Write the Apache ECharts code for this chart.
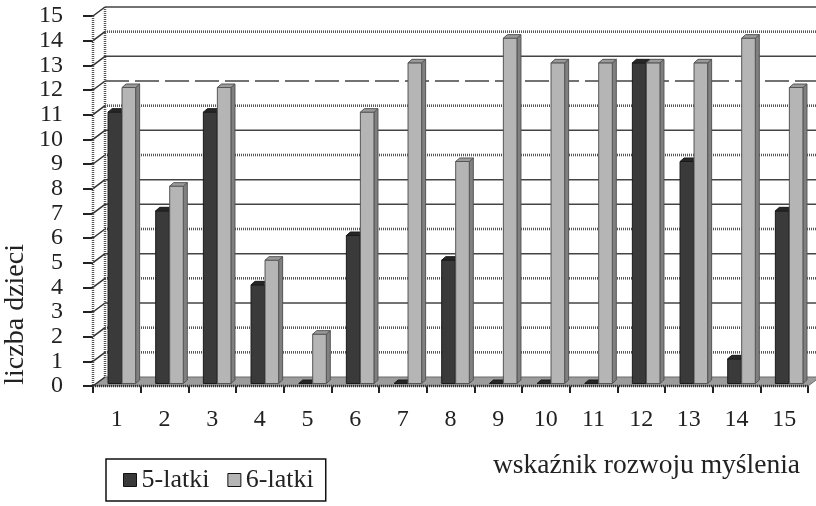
<!DOCTYPE html>
<html>
<head>
<meta charset="utf-8">
<script src="https://cdn.jsdelivr.net/npm/echarts@6/dist/echarts.min.js"></script>
<style>
html,body{margin:0;padding:0;background:#fff;}
#chart{width:816px;height:506px;}
</style>
</head>
<body>
<div id="chart"></div>
<script>
// ---- data ----
const categories = ['1','2','3','4','5','6','7','8','9','10','11','12','13','14','15'];
const seriesNames = ['5-latki', '6-latki'];
const values5 = [11, 7, 11, 4, 0, 6, 0, 5, 0, 0, 0, 13, 9, 1, 7];
const values6 = [12, 8, 12, 5, 2, 11, 13, 9, 14, 13, 13, 13, 13, 14, 12];
const yTicks = [0,1,2,3,4,5,6,7,8,9,10,11,12,13,14,15];
const xTitle = 'wskaźnik rozwoju myślenia';
const yTitle = 'liczba dzieci';

// ---- style config ----
const FONT = "'Liberation Serif', 'DejaVu Serif', serif";
const gridPattern = ['none','dotted','dotted','solid','dotted','solid','dotted','solid','solid','dotted','solid','dotted','dashed','solid','dotted','solid'];
const DEPTH_X = 12, DEPTH_Y = -9;

function lineStyleFor(kind) {
  if (kind === 'dotted') return {stroke: '#555', lineWidth: 2.6, lineDash: [1, 1]};
  if (kind === 'dashed') return {stroke: '#444', lineWidth: 1.6, lineDash: [24, 6]};
  return {stroke: '#444', lineWidth: 1.5};
}

function renderWall(params, api) {
  const cs = params.coordSys;
  const v = api.value(1);
  const p = api.coord([0, v]);
  const y = p[1];
  const xl = cs.x, xr = cs.x + cs.width;
  const children = [];
  if (v === 0) {
    children.push({type: 'polygon', shape: {points: [[xl, y], [xr, y], [xr + DEPTH_X, y + DEPTH_Y], [xl + DEPTH_X, y + DEPTH_Y]]},
      style: {fill: '#9c9c9c', stroke: '#6a6a6a', lineWidth: 1}});
    children.push({type: 'line', shape: {x1: xl, y1: y, x2: xr, y2: y}, style: {stroke: '#333', lineWidth: 2.5, lineDash: [1, 1]}});
    const yTop = cs.y;
    children.push({type: 'line', shape: {x1: xl, y1: yTop, x2: xl, y2: y}, style: {stroke: '#555', lineWidth: 2.5, lineDash: [1, 1]}});
    children.push({type: 'line', shape: {x1: xl + DEPTH_X, y1: yTop + DEPTH_Y, x2: xl + DEPTH_X, y2: y + DEPTH_Y}, style: {stroke: '#555', lineWidth: 2.5, lineDash: [1, 1]}});
  } else {
    const st = lineStyleFor(gridPattern[v]);
    children.push({type: 'line', shape: {x1: xl + DEPTH_X, y1: y + DEPTH_Y, x2: xr + DEPTH_X + 10, y2: y + DEPTH_Y}, style: st});
  }
  children.push({type: 'line', shape: {x1: xl, y1: y, x2: xl + DEPTH_X, y2: y + DEPTH_Y}, style: {stroke: '#333', lineWidth: 1.5}});
  return {type: 'group', children: children};
}

function barRenderer(side, colors) {
  return function (params, api) {
    const ci = api.value(0), v = api.value(1);
    const top = api.coord([ci, v]);
    const base = api.coord([ci, 0]);
    const hw = 6.8;
    const cx = top[0] + side * 7;
    const fx = 5, fy = -2.5, dx = 4, dy = -3.5;
    const x0 = cx - hw + fx, x1 = cx + hw + fx;
    const yt = top[1] + fy, yb = base[1] + fy;
    const children = [];
    if (yb - yt > 0.5) {
      children.push({type: 'polygon', shape: {points: [[x1, yt], [x1 + dx, yt + dy], [x1 + dx, yb + dy], [x1, yb]]},
        style: {fill: colors.side, stroke: colors.stroke, lineWidth: 1}});
      children.push({type: 'rect', shape: {x: x0, y: yt, width: x1 - x0, height: yb - yt},
        style: {fill: colors.front, stroke: colors.stroke, lineWidth: 1}});
    }
    children.push({type: 'polygon', shape: {points: [[x0, yt], [x1, yt], [x1 + dx, yt + dy], [x0 + dx, yt + dy]]},
      style: {fill: colors.top, stroke: colors.stroke, lineWidth: 1}});
    return {type: 'group', children: children};
  };
}

const darkColors = {front: '#3a3a3a', top: '#262626', side: '#1f1f1f', stroke: '#1a1a1a'};
const lightColors = {front: '#b5b5b5', top: '#9a9a9a', side: '#808080', stroke: '#555'};

const chart = echarts.init(document.getElementById('chart'), null, {renderer: 'canvas'});
chart.setOption({
  animation: false,
  backgroundColor: '#fff',
  textStyle: {fontFamily: FONT},
  grid: {left: 93, right: 8, top: 16, bottom: 120, containLabel: false},
  legend: {
    data: seriesNames,
    left: 106, top: 459,
    orient: 'horizontal',
    borderColor: '#111', borderWidth: 1.5,
    padding: [8, 12, 8, 17],
    itemWidth: 13, itemHeight: 13, itemGap: 18,
    icon: 'rect',
    itemStyle: {borderColor: '#111', borderWidth: 1},
    textStyle: {fontFamily: FONT, fontSize: 26, color: '#222'}
  },
  xAxis: {
    type: 'category',
    data: categories,
    boundaryGap: true,
    axisLine: {show: false},
    axisTick: {show: true, length: 7, interval: 0, lineStyle: {color: '#222', width: 2}},
    axisLabel: {fontFamily: FONT, fontSize: 24, color: '#222', margin: 22, interval: 0},
    splitLine: {show: false}
  },
  yAxis: {
    type: 'value',
    min: 0, max: 15, interval: 1,
    axisLine: {show: false},
    axisTick: {show: true, length: 10, lineStyle: {color: '#222', width: 2}},
    axisLabel: {fontFamily: FONT, fontSize: 24, color: '#222', margin: 30},
    splitLine: {show: false}
  },
  graphic: [
    {type: 'text', left: 2, top: 244, rotation: Math.PI / 2,
      style: {text: yTitle, fontFamily: FONT, fontSize: 28, fill: '#222'}},
    {type: 'text', left: 493, top: 452,
      style: {text: xTitle, fontFamily: FONT, fontSize: 27.5, fill: '#222'}}
  ],
  series: [
    {type: 'custom', name: 'walls', silent: true, z: 1,
      data: yTicks.map(v => [0, v]),
      renderItem: renderWall},
    {type: 'custom', name: seriesNames[0], z: 3,
      itemStyle: {color: darkColors.front},
      data: values5.map((v, i) => [i, v]),
      renderItem: barRenderer(-1, darkColors)},
    {type: 'custom', name: seriesNames[1], z: 4,
      itemStyle: {color: lightColors.front},
      data: values6.map((v, i) => [i, v]),
      renderItem: barRenderer(1, lightColors)}
  ]
});
</script>
</body>
</html>
